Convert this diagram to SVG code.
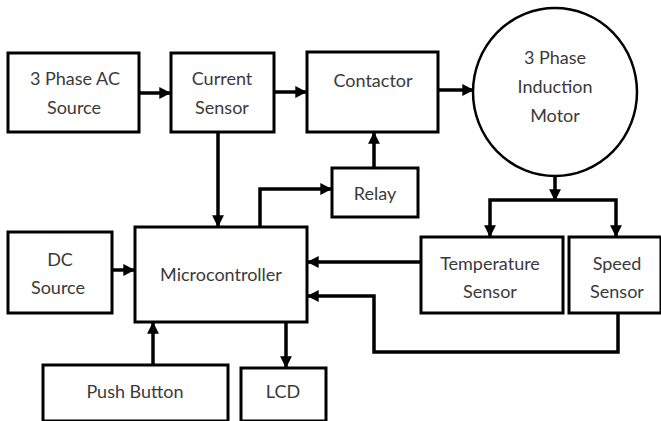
<svg xmlns="http://www.w3.org/2000/svg" width="661" height="421" viewBox="0 0 661 421">
<defs>
<style>
.box{fill:#fff;stroke:#000;stroke-width:3}
.t{font-family:Lato,"Open Sans","Liberation Sans",sans-serif;font-size:18px;fill:#3a3a3a;text-anchor:middle}
.c{fill:none;stroke:#000;stroke-width:3.5}
</style>
<marker id="ah" viewBox="0 0 10 10" refX="9" refY="5" markerWidth="3.4" markerHeight="3.4" markerUnits="strokeWidth" orient="auto">
<path d="M0,0 L10,5 L0,10 Z" fill="#000"/>
</marker>
</defs>
<rect width="661" height="421" fill="#fff"/>
<g id="connectors">
<line class="c" x1="139" y1="93" x2="170" y2="93" marker-end="url(#ah)"/>
<line class="c" x1="274" y1="92" x2="306" y2="92" marker-end="url(#ah)"/>
<line class="c" x1="438" y1="90" x2="473" y2="90" marker-end="url(#ah)"/>
<line class="c" x1="218" y1="132" x2="218" y2="226" marker-end="url(#ah)"/>
<polyline class="c" points="260,227 260,189 331,189" marker-end="url(#ah)"/>
<line class="c" x1="374" y1="168" x2="374" y2="133" marker-end="url(#ah)"/>
<line class="c" x1="555" y1="177" x2="555" y2="200" marker-end="url(#ah)"/>
<polyline class="c" points="555,200 490,200 490,236" marker-end="url(#ah)"/>
<polyline class="c" points="555,200 616,200 616,236" marker-end="url(#ah)"/>
<line class="c" x1="421" y1="262" x2="308" y2="262" marker-end="url(#ah)"/>
<polyline class="c" points="618,313 618,352 374,352 374,296 308,296" marker-end="url(#ah)"/>
<line class="c" x1="112" y1="270" x2="134" y2="270" marker-end="url(#ah)"/>
<line class="c" x1="153" y1="365" x2="153" y2="323" marker-end="url(#ah)"/>
<line class="c" x1="286" y1="322" x2="286" y2="367" marker-end="url(#ah)"/>
</g>
<g id="ac_source"><rect class="box" x="8" y="53" width="131" height="79"/><text class="t" x="75" y="85">3 Phase AC</text><text class="t" x="74" y="114">Source</text></g>
<g id="current_sensor"><rect class="box" x="171" y="53" width="103" height="79"/><text class="t" x="222" y="85">Current</text><text class="t" x="222" y="114">Sensor</text></g>
<g id="contactor"><rect class="box" x="307" y="52" width="131" height="80"/><text class="t" x="373" y="87">Contactor</text></g>
<g id="motor"><ellipse cx="555" cy="92" rx="82" ry="84" fill="#fff" stroke="#000" stroke-width="2.5"/><text class="t" x="555" y="64">3 Phase</text><text class="t" x="555" y="93">Induction</text><text class="t" x="555" y="122">Motor</text></g>
<g id="relay"><rect class="box" x="332" y="168" width="86" height="49"/><text class="t" x="375" y="200">Relay</text></g>
<g id="temperature_sensor"><rect class="box" x="421" y="237" width="142" height="76"/><text class="t" x="490" y="270">Temperature</text><text class="t" x="490" y="298">Sensor</text></g>
<g id="speed_sensor"><rect class="box" x="569" y="237" width="92" height="76"/><text class="t" x="617" y="270">Speed</text><text class="t" x="617" y="298">Sensor</text></g>
<g id="microcontroller"><rect class="box" x="135" y="227" width="172" height="95"/><text class="t" x="221" y="281">Microcontroller</text></g>
<g id="dc_source"><rect class="box" x="8" y="232" width="104" height="81"/><text class="t" x="60" y="266">DC</text><text class="t" x="58" y="294">Source</text></g>
<g id="push_button"><rect class="box" x="43" y="365" width="185" height="56"/><text class="t" x="135" y="398">Push Button</text></g>
<g id="lcd"><rect class="box" x="241" y="368" width="85" height="53"/><text class="t" x="283" y="398">LCD</text></g>
</svg>
